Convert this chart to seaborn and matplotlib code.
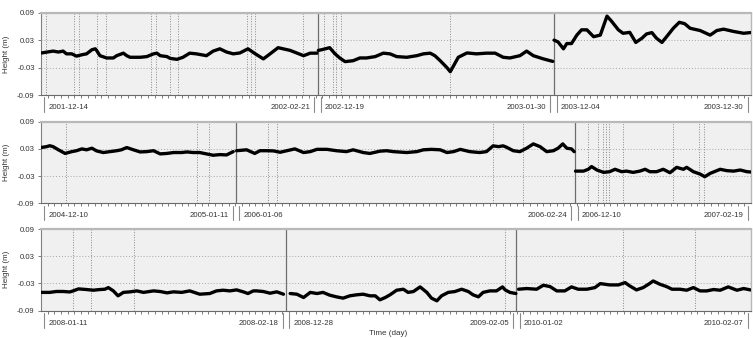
import numpy as np
import pandas as pd
import matplotlib
matplotlib.use("Agg")
import matplotlib.pyplot as plt
import matplotlib.transforms as mtransforms
import seaborn as sns

# ---------------- data (time index in days within each row, height in m) ----------------
r1s1_t = [0.1, 1.8, 2.6, 3.3, 3.8, 4.6, 5.3, 6.1, 6.8, 7.6, 8.1, 8.3, 8.8, 9.8, 10.8, 11.3, 12.3, 12.8, 13.3, 14.8,
          15.8, 16.8, 17.3, 17.8, 18.8, 19.3, 20.3, 21.2, 22.2, 23.2, 24.7, 25.7, 26.7, 27.7, 28.7, 29.7, 30.9, 32.0,
          33.2, 34.2, 35.4, 37.2, 39.2, 40.2, 41.2]
r1s1_h = [0.002, 0.006, 0.004, 0.006, 0.0, 0.0, -0.005, -0.002, 0.0, 0.009, 0.011, 0.0075, -0.004, -0.009, -0.009,
          -0.004, 0.0015, -0.004, -0.0075, -0.0075, -0.006, 0.0, 0.0015, -0.004, -0.006, -0.010, -0.012, -0.0075,
          0.0015, 0.0, -0.004, 0.006, 0.011, 0.004, 0.0, 0.002, 0.011, 0.0, -0.011, 0.0, 0.0135, 0.0075, -0.004,
          0.0015, 0.0015]
r1s2_t = [41.4, 41.9, 43.1, 43.9, 44.6, 45.4, 46.6, 47.6, 48.6, 49.9, 51.1, 52.1, 53.1, 54.6, 56.1, 57.1, 58.1, 58.8,
          59.6, 60.6, 61.1, 61.6, 62.3, 63.6, 65.0, 66.5, 67.8, 69.0, 70.0, 71.5, 72.5, 73.5, 75.0, 76.4]
r1s2_h = [0.0075, 0.009, 0.0135, 0.0, -0.009, -0.017, -0.015, -0.009, -0.009, -0.006, 0.0015, 0.0, -0.006, -0.0075,
          -0.004, 0.0, 0.0015, -0.004, -0.015, -0.030, -0.039, -0.026, -0.0075, 0.002, 0.0, 0.0015, 0.0015, -0.0075,
          -0.009, -0.004, 0.006, -0.004, -0.011, -0.0165]
r1s3_t = [76.6, 77.2, 78.0, 78.5, 79.2, 80.0, 80.7, 81.5, 82.5, 83.5, 84.5, 85.2, 86.2, 86.9, 87.9, 88.8, 89.7, 90.4,
          91.2, 91.9, 92.7, 93.4, 94.4, 95.3, 96.1, 96.9, 98.4, 99.9, 100.9, 101.9, 103.4, 104.9, 105.9]
r1s3_h = [0.030, 0.026, 0.011, 0.0225, 0.0225, 0.041, 0.0525, 0.0525, 0.0375, 0.041, 0.0825, 0.071, 0.0525, 0.045,
          0.047, 0.025, 0.034, 0.0435, 0.0465, 0.034, 0.025, 0.0375, 0.056, 0.069, 0.066, 0.056, 0.051, 0.041,
          0.051, 0.054, 0.049, 0.045, 0.0465]

r2s1_t = [0.0, 0.85, 1.3, 1.8, 2.6, 3.6, 4.6, 5.3, 6.1, 6.8, 7.6, 8.3, 9.3, 10.3, 11.3, 12.0, 12.8, 13.8, 14.8, 15.8,
          16.8, 17.8, 18.8, 19.8, 21.0, 21.8, 22.7, 23.7, 24.7, 25.7, 26.7, 27.7, 28.7]
r2s1_h = [0.033, 0.035, 0.037, 0.035, 0.028, 0.020, 0.024, 0.026, 0.030, 0.028, 0.0315, 0.0256, 0.022, 0.024, 0.026,
          0.028, 0.033, 0.028, 0.0233, 0.024, 0.026, 0.019, 0.020, 0.022, 0.022, 0.0233, 0.022, 0.022, 0.019, 0.016,
          0.0174, 0.0167, 0.024]
r2s2_t = [29.2, 30.7, 31.9, 32.7, 33.7, 34.7, 35.7, 36.7, 37.9, 39.2, 40.2, 41.2, 42.7, 44.1, 45.6, 46.6, 48.1, 49.1,
          50.6, 51.6, 52.6, 54.6, 56.1, 57.1, 58.3, 59.6, 60.6, 61.6, 62.6, 64.0, 65.5, 66.5, 67.5, 68.3, 69.0, 69.5,
          70.5, 71.5, 72.5, 73.5, 74.5, 75.5, 76.5, 77.2, 77.9, 78.5, 79.2, 79.6]
r2s2_h = [0.026, 0.028, 0.020, 0.026, 0.026, 0.0256, 0.0226, 0.026, 0.030, 0.022, 0.024, 0.029, 0.029, 0.026, 0.024,
          0.028, 0.022, 0.020, 0.025, 0.026, 0.024, 0.022, 0.024, 0.028, 0.029, 0.028, 0.022, 0.024, 0.029, 0.024,
          0.022, 0.024, 0.0367, 0.035, 0.0367, 0.0337, 0.026, 0.024, 0.0315, 0.041, 0.035, 0.024, 0.026, 0.0315,
          0.041, 0.0315, 0.030, 0.024]
r2s3_t = [79.8, 81.0, 81.7, 82.2, 83.0, 84.0, 84.9, 85.7, 86.7, 87.4, 88.4, 89.4, 90.2, 90.9, 91.9, 92.9, 93.9, 94.9,
          95.9, 96.4, 97.4, 98.4, 99.1, 99.9, 101.4, 102.4, 103.4, 104.4, 105.4, 106.0]
r2s3_h = [-0.019, -0.019, -0.015, -0.009, -0.0166, -0.0218, -0.0203, -0.015, -0.0203, -0.019, -0.0218, -0.019,
          -0.015, -0.0203, -0.0203, -0.015, -0.0225, -0.0107, -0.015, -0.0107, -0.0203, -0.0255, -0.0314, -0.024,
          -0.015, -0.018, -0.019, -0.0166, -0.0203, -0.021]

r3s1_t = [0.0, 1.3, 2.3, 3.3, 4.3, 4.8, 5.6, 6.8, 7.8, 8.8, 9.55, 10.05, 10.8, 11.5, 12.3, 13.3, 14.3, 15.3, 16.8,
          17.8, 18.8, 19.8, 21.0, 22.2, 23.7, 25.2, 26.2, 27.2, 28.2, 29.2, 30.2, 30.9, 31.7, 32.2, 33.2, 34.2, 35.2,
          36.2]
r3s1_h = [-0.050, -0.050, -0.048, -0.048, -0.049, -0.0467, -0.0423, -0.0437, -0.0452, -0.0437, -0.043, -0.0394,
          -0.0467, -0.0576, -0.050, -0.0488, -0.0467, -0.050, -0.0467, -0.0481, -0.051, -0.0488, -0.050, -0.0467,
          -0.054, -0.0525, -0.0467, -0.0452, -0.0467, -0.0445, -0.0488, -0.0525, -0.0467, -0.0467, -0.0481, -0.0518,
          -0.0488, -0.054]
r3s2_t = [37.2, 38.2, 39.2, 40.2, 41.2, 42.1, 43.1, 44.1, 45.1, 46.1, 47.1, 48.1, 49.1, 49.9, 50.6, 51.4, 52.1, 53.1,
          54.1, 54.8, 55.6, 56.6, 57.6, 58.3, 59.1, 59.8, 60.8, 61.8, 62.8, 63.8, 64.5, 65.3, 66.0, 67.0, 68.0, 68.9,
          69.3, 70.0, 70.9]
r3s2_h = [-0.0525, -0.054, -0.0613, -0.050, -0.0525, -0.050, -0.0561, -0.0598, -0.0627, -0.0576, -0.0554, -0.054,
          -0.0576, -0.0576, -0.0664, -0.0613, -0.0554, -0.0452, -0.043, -0.050, -0.0481, -0.0379, -0.050, -0.0627,
          -0.0686, -0.0576, -0.050, -0.0481, -0.043, -0.0481, -0.0554, -0.0598, -0.050, -0.0467, -0.0467, -0.0379,
          -0.0445, -0.050, -0.0525]
r3s3_t = [71.3, 72.5, 74.0, 75.0, 76.0, 77.0, 78.2, 79.2, 80.2, 81.5, 82.7, 83.5, 84.9, 86.2, 87.2, 87.9, 88.9, 89.9,
          90.7, 91.4, 92.4, 93.4, 94.2, 95.4, 96.4, 97.4, 98.4, 99.4, 100.4, 101.4, 102.6, 103.9, 104.9, 105.9]
r3s3_h = [-0.043, -0.0415, -0.043, -0.0342, -0.0372, -0.0467, -0.0467, -0.0379, -0.043, -0.043, -0.0394, -0.0306,
          -0.0335, -0.0335, -0.0284, -0.0357, -0.0445, -0.0394, -0.032, -0.0248, -0.032, -0.0372, -0.043, -0.043,
          -0.0452, -0.0394, -0.0467, -0.0467, -0.0437, -0.0452, -0.0379, -0.0452, -0.0415, -0.0445]

# segment boundaries (row time index)
row1_bounds = [0, 41.31, 76.53, 106]
row2_bounds = [0, 29.11, 79.68, 106]
row3_bounds = [0, 36.58, 70.98, 106]

# segment start / end dates
row1_dates = [("2001-12-14", "2002-02-21"), ("2002-12-19", "2003-01-30"), ("2003-12-04", "2003-12-30")]
row2_dates = [("2004-12-10", "2005-01-11"), ("2006-01-06", "2006-02-24"), ("2006-12-10", "2007-02-19")]
row3_dates = [("2008-01-11", "2008-02-18"), ("2008-12-28", "2009-02-05"), ("2010-01-02", "2010-02-07")]

# event markers (dotted lines)
row1_events = [0.75, 4.93, 5.67, 8.36, 9.70, 16.42, 17.17, 19.26, 20.45, 30.76, 31.35, 31.95, 39.12, 42.25, 43.59,
               44.04, 44.79, 61.06]
row2_events = [3.73, 23.29, 25.08, 33.89, 35.23, 67.48, 71.96, 81.67, 83.16, 83.91, 84.35, 84.80, 86.89, 94.36,
               98.24, 98.99]
row3_events = [4.78, 7.46, 13.88, 69.27, 86.89, 97.64]

y_ticks = [0.09, 0.03, -0.03, -0.09]
y_tick_labels = ["0.09", "0.03", "-0.03", "-0.09"]

rows = [
    dict(segs=[(r1s1_t, r1s1_h), (r1s2_t, r1s2_h), (r1s3_t, r1s3_h)], bounds=row1_bounds, dates=row1_dates,
         events=row1_events),
    dict(segs=[(r2s1_t, r2s1_h), (r2s2_t, r2s2_h), (r2s3_t, r2s3_h)], bounds=row2_bounds, dates=row2_dates,
         events=row2_events),
    dict(segs=[(r3s1_t, r3s1_h), (r3s2_t, r3s2_h), (r3s3_t, r3s3_h)], bounds=row3_bounds, dates=row3_dates,
         events=row3_events),
]

# ---------------- figure ----------------
sns.set_theme(style="white")
plt.rcParams["font.family"] = ["Liberation Sans", "DejaVu Sans"]

TXT = "#333333"
fig = plt.figure(figsize=(7.53, 3.38), dpi=100)
W, H = 753.0, 338.0
axes_px = [(12.7, 95.0), (121.7, 203.3), (229.0, 310.5)]  # (top, bottom) in pixels
left_px, right_px = 41.0, 751.0

for (top, bot), row in zip(axes_px, rows):
    ax = fig.add_axes([left_px / W, 1 - bot / H, (right_px - left_px) / W, (bot - top) / H])
    ax.set_facecolor("#f0f0f0")

    # horizontal dotted grid lines
    for yv in (0.03, -0.03):
        ax.axhline(yv, color="#a8a8a8", lw=0.7, ls=(0, (1, 2)), zorder=1)
    # event markers
    for ev in row["events"]:
        ax.axvline(ev, color="#8a8a8a", lw=0.7, ls=(0, (1, 1.6)), zorder=1)
    # segment boundaries
    for b in row["bounds"][1:-1]:
        ax.axvline(b, color="#6e6e6e", lw=0.9, zorder=2)

    # the series
    for t, h in row["segs"]:
        df = pd.DataFrame({"t": t, "h": h})
        sns.lineplot(data=df, x="t", y="h", ax=ax, color="black", linewidth=2.4,
                     estimator=None, sort=False, zorder=3)

    ax.set_xlim(row["bounds"][0], row["bounds"][-1])
    ax.set_ylim(-0.09, 0.09)
    ax.set_yticks(y_ticks)
    ax.set_yticklabels(y_tick_labels, fontsize=5.6, color=TXT)
    ax.set_xticks(np.arange(1, 106, 1))
    ax.set_xticklabels([])
    ax.tick_params(axis="x", length=2.5, width=0.6, color="#666666", direction="out", bottom=True)
    ax.tick_params(axis="y", length=2.5, width=0.6, color="#666666", direction="out", left=True, pad=2)
    ax.set_xlabel("")
    ax.set_ylabel("Height (m)", fontsize=5.8, color=TXT)
    ax.yaxis.set_label_coords(-0.0435, 0.5)

    for side in ("top", "right"):
        ax.spines[side].set_color("#b8b8b8")
    ax.spines["top"].set_linewidth(1.6)
    ax.spines["right"].set_linewidth(1.0)
    ax.spines["left"].set_color("#808080")
    ax.spines["left"].set_linewidth(0.8)
    ax.spines["bottom"].set_color("#6a6a6a")
    ax.spines["bottom"].set_linewidth(0.8)

    # label strip below the axes
    trans = mtransforms.blended_transform_factory(ax.transData, ax.transAxes)
    b = row["bounds"]
    pad = 0.5
    for i, (d0, d1) in enumerate(row["dates"]):
        lx = b[i] + pad
        rx = b[i + 1] - pad
        for xx in (lx, rx):
            ax.plot([xx, xx], [-0.03, -0.21], transform=trans, color="#8a8a8a", lw=0.8,
                    clip_on=False, zorder=4)
        ax.text(lx + 0.6, -0.155, d0, transform=trans, ha="left", va="center", fontsize=5.6, color=TXT)
        ax.text(rx - 0.6, -0.155, d1, transform=trans, ha="right", va="center", fontsize=5.6, color=TXT)

fig.text(0.515, 0.004, "Time (day)", ha="center", va="bottom", fontsize=5.8, color=TXT)

fig.savefig("out.png", dpi=100)
